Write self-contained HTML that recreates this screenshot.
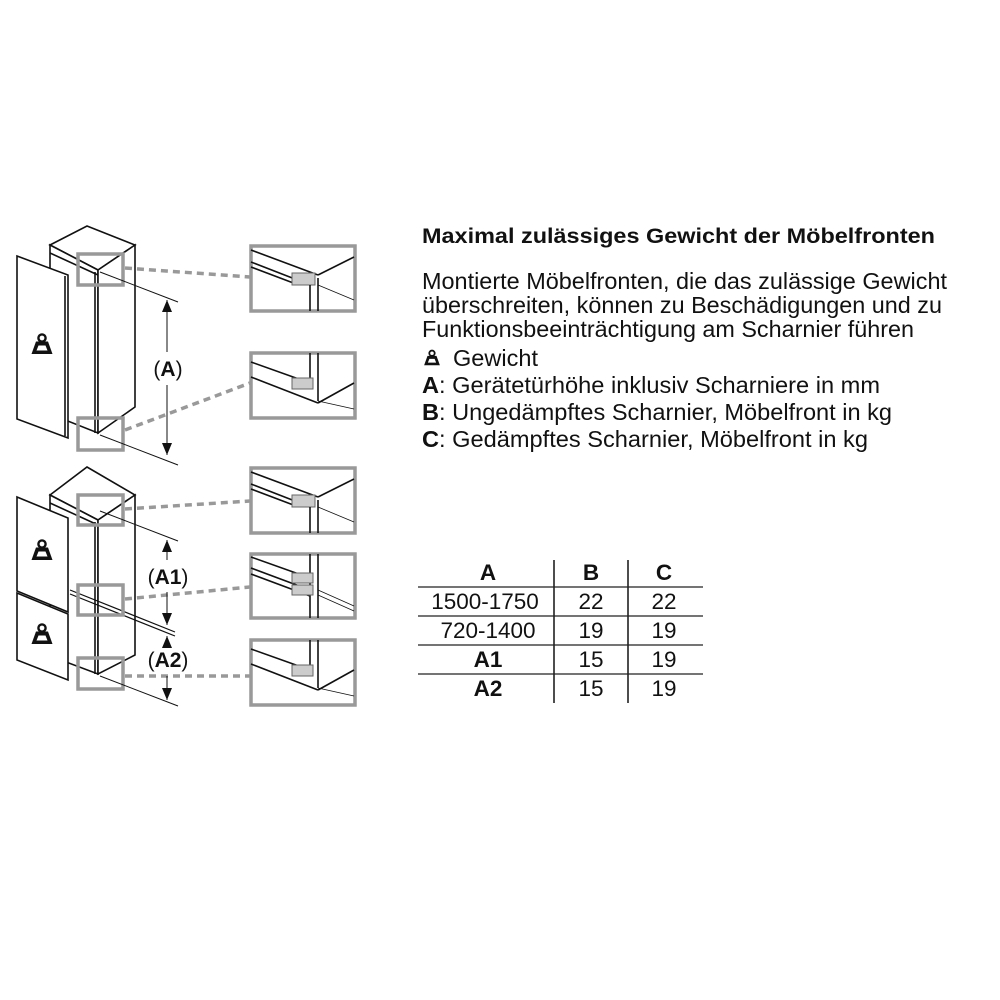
<!DOCTYPE html>
<html><head><meta charset="utf-8"><style>
html,body{margin:0;padding:0;background:#fff;}
svg{display:block}
text{font-family:"Liberation Sans",Arial,sans-serif;fill:#111}
</style></head><body>
<svg width="1000" height="1000" viewBox="0 0 1000 1000" xmlns="http://www.w3.org/2000/svg">
<defs>
<g id="wt">
<circle cx="0" cy="-9" r="3.6" fill="none" stroke="#111" stroke-width="2.4"/>
<path d="M-6,-5.5 L6,-5.5 L10.5,7 L-10.5,7 Z" fill="#111"/>
<path d="M-3.5,-1.5 L3.5,-1.5 L5.5,3.5 L-5.5,3.5 Z" fill="#fff"/>
</g>
<g id="dtop" fill="none" stroke="#111" stroke-width="1.6">
<line x1="251" y1="250" x2="318" y2="275"/>
<line x1="318" y1="275" x2="354" y2="257"/>
<line x1="251" y1="262" x2="300" y2="281"/>
<line x1="251" y1="267" x2="296" y2="284"/>
<rect x="292" y="273" width="23" height="12" fill="#ccc" stroke="#666" stroke-width="1"/>
<line x1="310" y1="285" x2="310" y2="311"/>
<line x1="318" y1="278" x2="318" y2="311"/>
<line x1="318" y1="285" x2="354" y2="300" stroke-width="0.8"/>
</g>
<g id="dbot" fill="none" stroke="#111" stroke-width="1.6">
<line x1="310" y1="0" x2="310" y2="30"/>
<line x1="318" y1="0" x2="318" y2="48"/>
<line x1="251" y1="9" x2="310" y2="30"/>
<line x1="251" y1="24" x2="318" y2="50"/>
<rect x="292" y="25" width="21" height="11" fill="#ccc" stroke="#666" stroke-width="1"/>
<line x1="318" y1="50" x2="354" y2="30"/>
<line x1="318" y1="48" x2="354" y2="56" stroke-width="0.8"/>
</g>
</defs>

<!-- TOP FRIDGE -->
<g fill="#fff" stroke="#111" stroke-width="1.6">
<path d="M50,245 L87,226 L135,245 L98,270 Z"/>
<path d="M50,245 L98,270 L98,433 L50,414 Z"/>
<path d="M98,270 L135,245 L135,407 L98,433 Z"/>
<line x1="50" y1="253" x2="98" y2="275"/>
<line x1="95" y1="272" x2="95" y2="433"/>
<path d="M17,256 L68,275 L68,438 L17,419 Z"/>
<line x1="65" y1="276" x2="65" y2="436"/>
</g>
<use href="#wt" x="42" y="347"/>
<g fill="none" stroke="#999" stroke-width="3.5">
<rect x="78" y="254" width="45" height="31"/>
<rect x="78" y="418" width="45" height="32"/>
<rect x="251" y="246" width="104" height="65"/>
<rect x="251" y="353" width="104" height="65"/>
</g>
<g stroke="#999" stroke-width="3.5" stroke-dasharray="7,5">
<line x1="125" y1="268" x2="250" y2="277"/>
<line x1="125" y1="430" x2="250" y2="383"/>
</g>
<use href="#dtop"/>
<use href="#dbot" y="353"/>
<g stroke="#111" stroke-width="1">
<line x1="100" y1="272" x2="178" y2="302"/>
<line x1="100" y1="435" x2="178" y2="465"/>
<line x1="167" y1="300" x2="167" y2="352"/>
<line x1="167" y1="385" x2="167" y2="455"/>
</g>
<path d="M167,300 l-5,12 h10 Z M167,455 l-5,-12 h10 Z" fill="#111"/>
<text x="168" y="376" font-size="21" text-anchor="middle">(<tspan font-weight="bold">A</tspan>)</text>

<!-- BOTTOM FRIDGE -->
<g fill="#fff" stroke="#111" stroke-width="1.6">
<path d="M50,495 L87,467 L135,495 L98,520 Z"/>
<path d="M50,495 L98,520 L98,674 L50,656 Z"/>
<path d="M98,520 L135,495 L135,655 L98,674 Z"/>
<line x1="50" y1="503" x2="98" y2="525"/>
<line x1="95" y1="522" x2="95" y2="674"/>
<path d="M17,497 L68,518 L68,612 L17,591 Z"/>
<path d="M17,593 L68,614 L68,680 L17,660 Z"/>
</g>
<line x1="70" y1="590" x2="175" y2="632" stroke="#111" stroke-width="1.2"/>
<line x1="70" y1="594" x2="175" y2="636" stroke="#111" stroke-width="1.2"/>
<use href="#wt" x="42" y="553"/>
<use href="#wt" x="42" y="637"/>
<g fill="none" stroke="#999" stroke-width="3.5">
<rect x="78" y="495" width="45" height="30"/>
<rect x="78" y="585" width="45" height="30"/>
<rect x="78" y="658" width="45" height="31"/>
<rect x="251" y="468" width="104" height="65"/>
<rect x="251" y="554" width="104" height="64"/>
<rect x="251" y="640" width="104" height="65"/>
</g>
<g stroke="#999" stroke-width="3.5" stroke-dasharray="7,5">
<line x1="125" y1="509" x2="250" y2="501"/>
<line x1="125" y1="599" x2="250" y2="587"/>
<line x1="125" y1="676" x2="250" y2="676"/>
</g>
<use href="#dtop" y="222"/>
<g fill="none" stroke="#111" stroke-width="1.6">
<line x1="310" y1="554" x2="310" y2="618"/>
<line x1="318" y1="554" x2="318" y2="618"/>
<line x1="251" y1="557" x2="310" y2="578"/>
<line x1="251" y1="568" x2="310" y2="590"/>
<line x1="251" y1="574" x2="310" y2="596"/>
<rect x="292" y="573" width="21" height="10" fill="#ccc" stroke="#666" stroke-width="1"/>
<rect x="292" y="585" width="21" height="10" fill="#ccc" stroke="#666" stroke-width="1"/>
<line x1="318" y1="590" x2="354" y2="606" stroke-width="0.8"/>
<line x1="318" y1="595" x2="354" y2="611" stroke-width="0.8"/>
</g>
<use href="#dbot" y="640"/>
<g stroke="#111" stroke-width="1">
<line x1="100" y1="511" x2="178" y2="541"/>
<line x1="100" y1="676" x2="178" y2="706"/>
<line x1="167" y1="540" x2="167" y2="560"/>
<line x1="167" y1="592" x2="167" y2="625"/>
<line x1="167" y1="636" x2="167" y2="645"/>
<line x1="167" y1="676" x2="167" y2="700"/>
</g>
<path d="M167,540 l-5,12 h10 Z M167,625 l-5,-12 h10 Z M167,636 l-5,12 h10 Z M167,700 l-5,-12 h10 Z" fill="#111"/>
<text x="168" y="584" font-size="21" text-anchor="middle">(<tspan font-weight="bold">A1</tspan>)</text>
<text x="168" y="667" font-size="21" text-anchor="middle">(<tspan font-weight="bold">A2</tspan>)</text>

<!-- TEXT -->
<text x="422" y="243" font-size="21.5" font-weight="bold" textLength="513" lengthAdjust="spacingAndGlyphs">Maximal zulässiges Gewicht der Möbelfronten</text>
<g font-size="23">
<text x="422" y="289" textLength="525" lengthAdjust="spacingAndGlyphs">Montierte Möbelfronten, die das zulässige Gewicht</text>
<text x="422" y="313" textLength="520" lengthAdjust="spacingAndGlyphs">überschreiten, können zu Beschädigungen und zu</text>
<text x="422" y="337" textLength="492" lengthAdjust="spacingAndGlyphs">Funktionsbeeinträchtigung am Scharnier führen</text>
<text x="453" y="366" textLength="85" lengthAdjust="spacingAndGlyphs">Gewicht</text>
<text x="422" y="393" textLength="458" lengthAdjust="spacingAndGlyphs"><tspan font-weight="bold">A</tspan>: Gerätetürhöhe inklusiv Scharniere in mm</text>
<text x="422" y="420" textLength="470" lengthAdjust="spacingAndGlyphs"><tspan font-weight="bold">B</tspan>: Ungedämpftes Scharnier, Möbelfront in kg</text>
<text x="422" y="447" textLength="446" lengthAdjust="spacingAndGlyphs"><tspan font-weight="bold">C</tspan>: Gedämpftes Scharnier, Möbelfront in kg</text>
</g>
<g transform="translate(432,360) scale(0.75)"><use href="#wt"/></g>

<!-- TABLE -->
<g stroke="#222" stroke-width="1.3">
<line x1="418" y1="587" x2="703" y2="587"/>
<line x1="418" y1="616" x2="703" y2="616"/>
<line x1="418" y1="645" x2="703" y2="645"/>
<line x1="418" y1="674" x2="703" y2="674"/>
<line x1="554" y1="560" x2="554" y2="703" stroke-width="1.6"/>
<line x1="628" y1="560" x2="628" y2="703" stroke-width="1.6"/>
</g>
<g font-size="22.5" text-anchor="middle">
<text x="488" y="580" font-weight="bold">A</text>
<text x="591" y="580" font-weight="bold">B</text>
<text x="664" y="580" font-weight="bold">C</text>
<text x="485" y="609">1500-1750</text><text x="591" y="609">22</text><text x="664" y="609">22</text>
<text x="488" y="638">720-1400</text><text x="591" y="638">19</text><text x="664" y="638">19</text>
<text x="488" y="667" font-weight="bold">A1</text><text x="591" y="667">15</text><text x="664" y="667">19</text>
<text x="488" y="696" font-weight="bold">A2</text><text x="591" y="696">15</text><text x="664" y="696">19</text>
</g>
</svg>
</body></html>
